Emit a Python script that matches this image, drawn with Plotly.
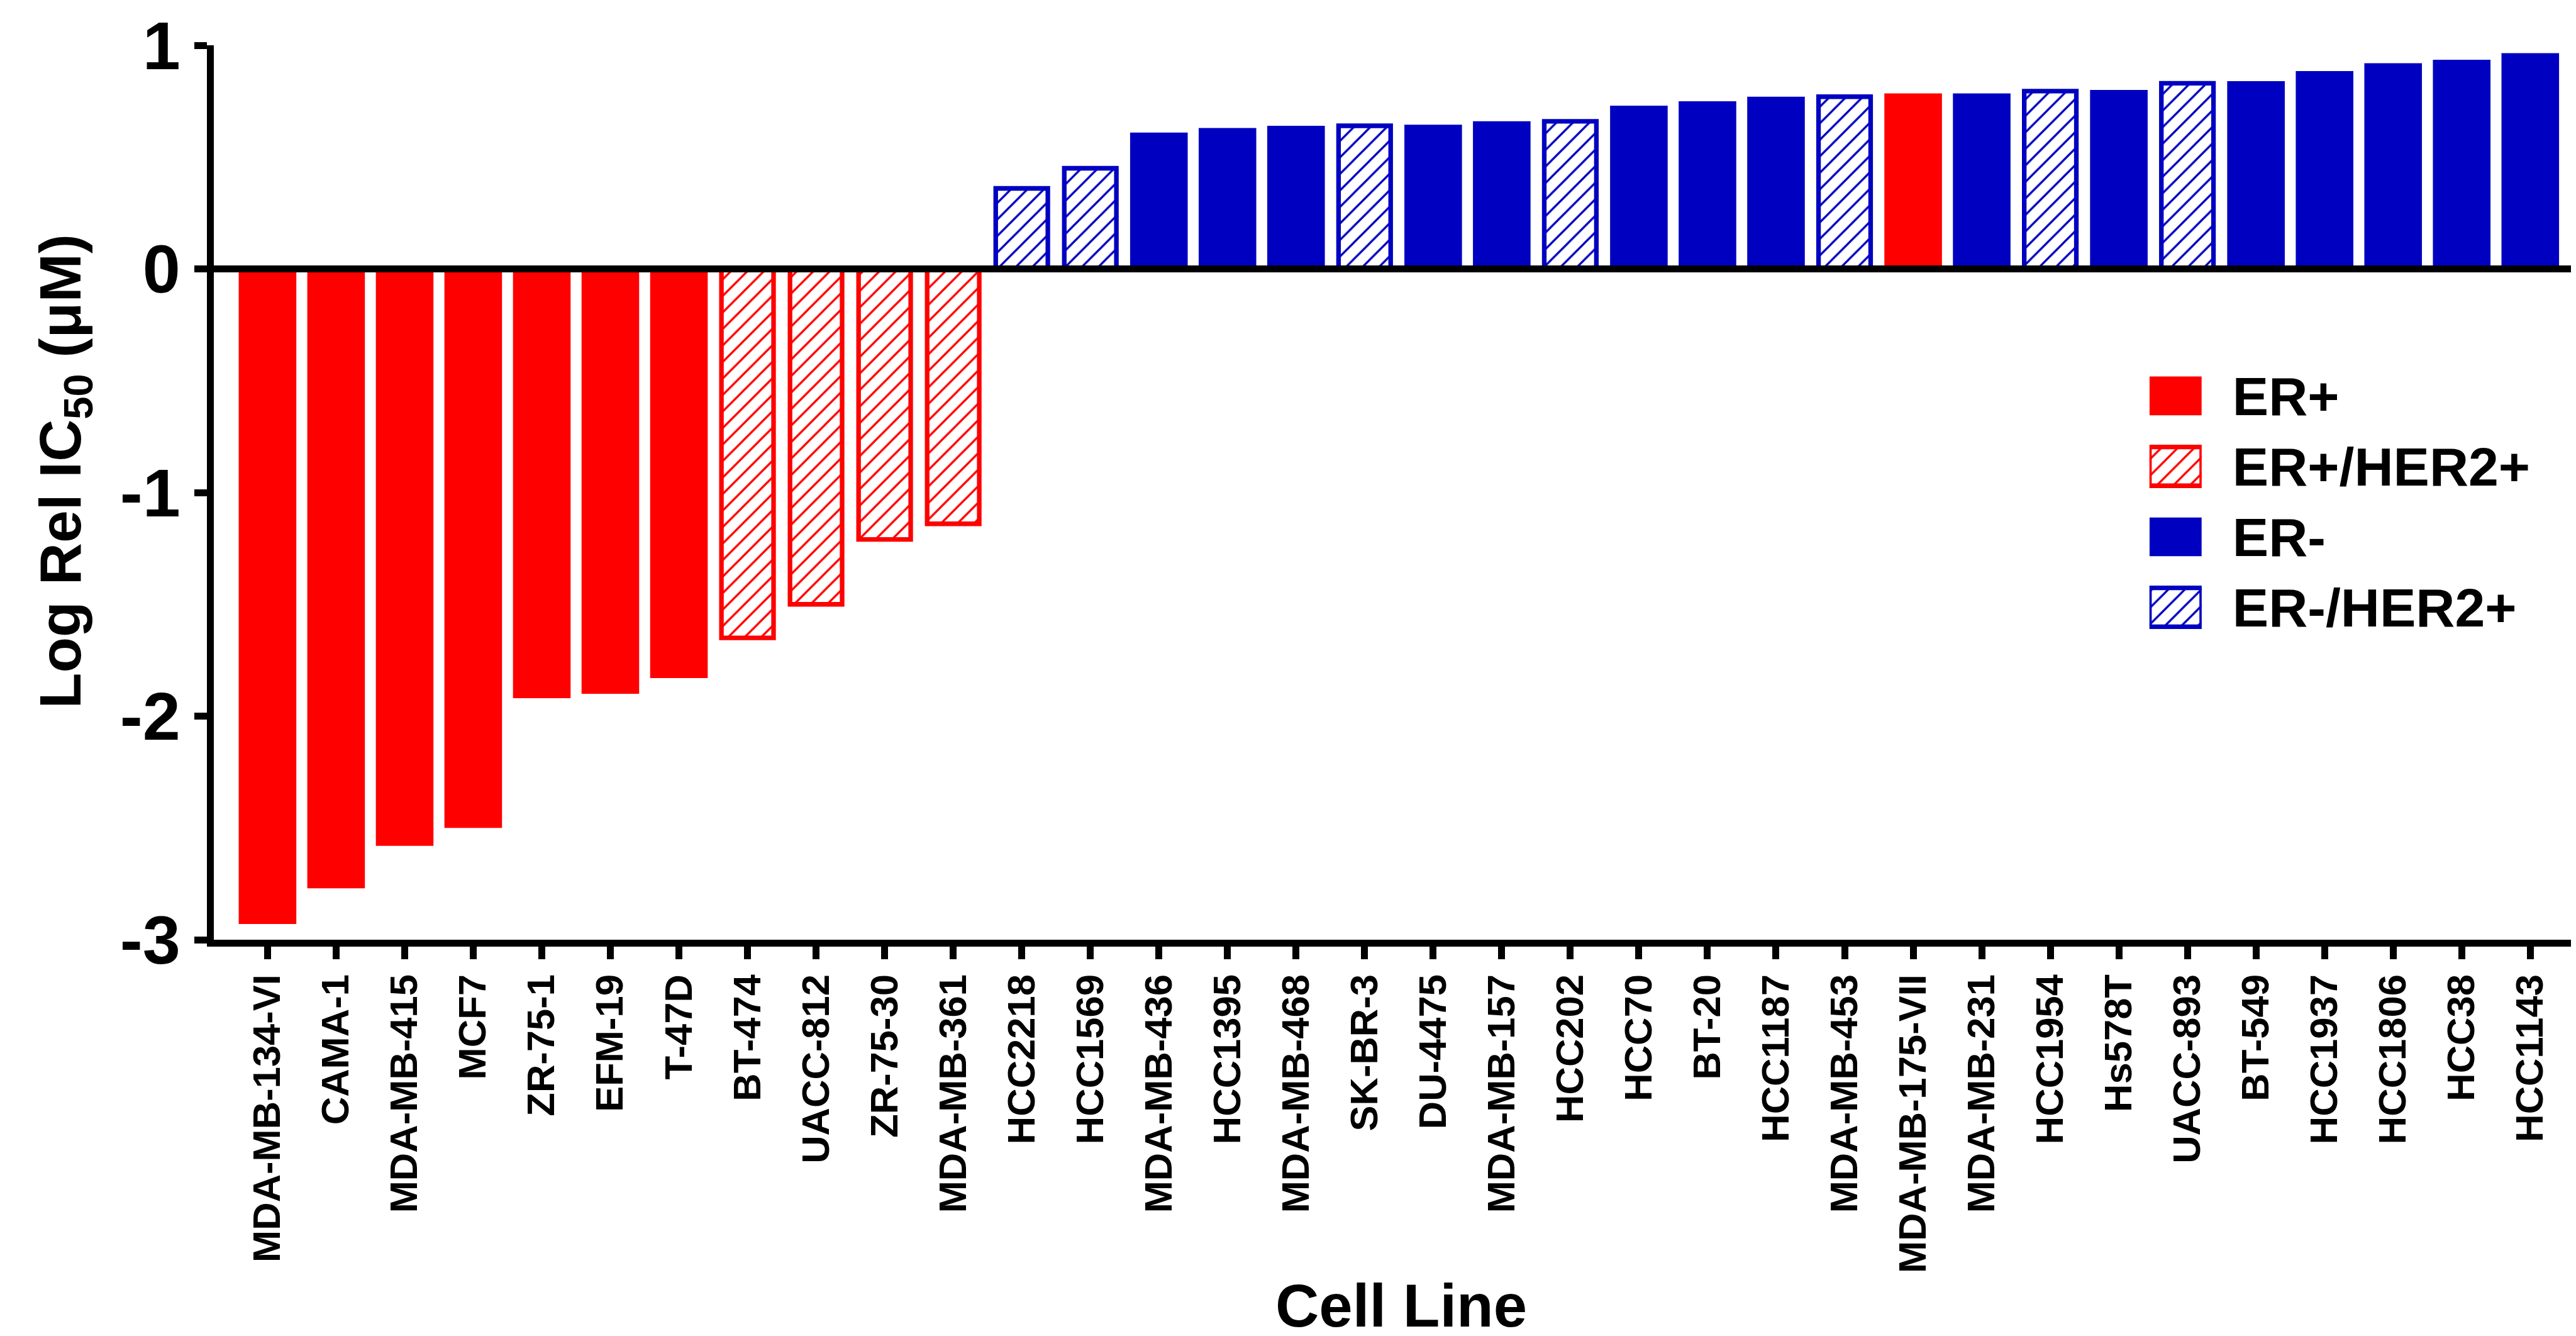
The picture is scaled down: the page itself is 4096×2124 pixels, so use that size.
import plotly.graph_objects as go

# ---------------- data ----------------
cell_lines = ["MDA-MB-134-VI", "CAMA-1", "MDA-MB-415", "MCF7", "ZR-75-1", "EFM-19", "T-47D",
              "BT-474", "UACC-812", "ZR-75-30", "MDA-MB-361", "HCC2218", "HCC1569",
              "MDA-MB-436", "HCC1395", "MDA-MB-468", "SK-BR-3", "DU-4475", "MDA-MB-157",
              "HCC202", "HCC70", "BT-20", "HCC1187", "MDA-MB-453", "MDA-MB-175-VII",
              "MDA-MB-231", "HCC1954", "Hs578T", "UACC-893", "BT-549", "HCC1937",
              "HCC1806", "HCC38", "HCC1143"]
log_rel_ic50 = [-2.93, -2.77, -2.58, -2.50, -1.92, -1.90, -1.83,
                -1.65, -1.50, -1.21, -1.14, 0.36, 0.45,
                0.61, 0.63, 0.64, 0.64, 0.645, 0.66,
                0.66, 0.73, 0.75, 0.77, 0.77, 0.785,
                0.785, 0.795, 0.80, 0.83, 0.84, 0.885,
                0.92, 0.935, 0.965]
subtype = ["ER+", "ER+", "ER+", "ER+", "ER+", "ER+", "ER+",
           "ER+/HER2+", "ER+/HER2+", "ER+/HER2+", "ER+/HER2+", "ER-/HER2+", "ER-/HER2+",
           "ER-", "ER-", "ER-", "ER-/HER2+", "ER-", "ER-",
           "ER-/HER2+", "ER-", "ER-", "ER-", "ER-/HER2+", "ER+",
           "ER-", "ER-/HER2+", "ER-", "ER-/HER2+", "ER-", "ER-",
           "ER-", "ER-", "ER-"]
legend_names = ["ER+", "ER+/HER2+", "ER-", "ER-/HER2+"]
y_ticks = [1, 0, -1, -2, -3]

# ---------------- styles ----------------
S = 0.977
RED = "#FF0000"
BLUE = "#0000C0"
FONT = "Liberation Sans"
styles = {
    "ER+": dict(color=RED, hatched=False),
    "ER+/HER2+": dict(color=RED, hatched=True),
    "ER-": dict(color=BLUE, hatched=False),
    "ER-/HER2+": dict(color=BLUE, hatched=True),
}


def marker_for(name):
    st = styles[name]
    if st["hatched"]:
        return dict(color="white",
                    pattern=dict(shape="/", fgcolor=st["color"], bgcolor="white",
                                 size=19 * S, solidity=0.18, fillmode="replace"),
                    line=dict(color=st["color"], width=7.5 * S))
    return dict(color=st["color"], line=dict(width=0))


W, H = 4096, 2124
ml = 331.8
mt = 64.0
plot_bottom = 1486.0
mb = H - plot_bottom
mr = 0
PW = W - ml
PH = plot_bottom - mt

pitch = 111.6 * S
first_c = 427 * S
x0 = -(first_c - ml) / pitch
x1 = x0 + PW / pitch

fig = go.Figure()
for name in legend_names:
    idx = [i for i, s in enumerate(subtype) if s == name]
    fig.add_trace(go.Bar(
        x=[cell_lines[i] for i in idx],
        y=[log_rel_ic50[i] for i in idx],
        marker=marker_for(name),
        width=0.76 if styles[name]["hatched"] else 0.84,
        showlegend=False, name=name,
        xaxis="x", yaxis="y",
    ))

# legend swatches drawn in an inset axis
for name in legend_names:
    fig.add_trace(go.Bar(
        y=[name], x=[1], base=[0], orientation="h",
        marker=marker_for(name), width=0.55,
        showlegend=False, xaxis="x2", yaxis="y2", hoverinfo="skip",
    ))


def px_to_xpaper(px):
    return (px - ml) / PW


def px_to_ypaper(py):
    return 1 - (py - mt) / PH


leg_top = 621.4 - 56.0
leg_bot = 957.5 + 56.0

fig.update_layout(
    width=W, height=H,
    margin=dict(l=ml, r=mr, t=mt, b=mb, pad=0, autoexpand=False),
    paper_bgcolor="white", plot_bgcolor="white",
    barmode="overlay",
    font=dict(family=FONT, color="black", weight="bold"),
    xaxis=dict(
        type="category", categoryorder="array", categoryarray=cell_lines,
        range=[x0, x1], showgrid=False, zeroline=False,
        showline=True, linecolor="black", linewidth=11,
        ticks="outside", ticklen=19.5, tickwidth=11, tickcolor="black",
        tickangle=-90, tickfont=dict(family=FONT, size=61.5, color="black", weight="bold"),
        ticklabeloverflow="allow", automargin=False,
    ),
    yaxis=dict(
        range=[-3, 1], tickvals=y_ticks, ticktext=[str(v) for v in y_ticks],
        showgrid=False, zeroline=False,
        showline=True, linecolor="black", linewidth=11,
        ticks="outside", ticklen=20.5, tickwidth=11, tickcolor="black",
        tickfont=dict(family=FONT, size=108, color="black", weight="bold"),
        ticklabeloverflow="allow", automargin=False,
    ),
    xaxis2=dict(domain=[px_to_xpaper(3409.7), px_to_xpaper(3492.8)], range=[0, 1],
                anchor="y2", visible=False, fixedrange=True),
    yaxis2=dict(domain=[px_to_ypaper(leg_bot), px_to_ypaper(leg_top)], anchor="x2",
                type="category", categoryorder="array", categoryarray=legend_names,
                range=[3.5, -0.5], side="right", showline=False, showgrid=False,
                zeroline=False, ticks="", ticklabelstandoff=48,
                tickfont=dict(family=FONT, size=86, color="black", weight="bold"),
                fixedrange=True),
    shapes=[dict(type="line", xref="paper", yref="y", x0=0, x1=1, y0=0, y1=0,
                 line=dict(color="black", width=11), layer="above")],
    annotations=[
        dict(text="Log Rel IC<sub>50</sub> (μM)", textangle=-90, showarrow=False,
             xref="paper", yref="paper", x=px_to_xpaper(93.8), y=px_to_ypaper(741.5),
             xanchor="center", yanchor="middle",
             font=dict(family=FONT, size=93, color="black", weight="bold")),
        dict(text="Cell Line", showarrow=False, borderpad=0,
             xref="paper", yref="paper", x=px_to_xpaper(2219.7), y=px_to_ypaper(2122),
             xanchor="center", yanchor="bottom",
             font=dict(family=FONT, size=96, color="black", weight="bold")),
    ],
)

fig.write_html("out.html")
